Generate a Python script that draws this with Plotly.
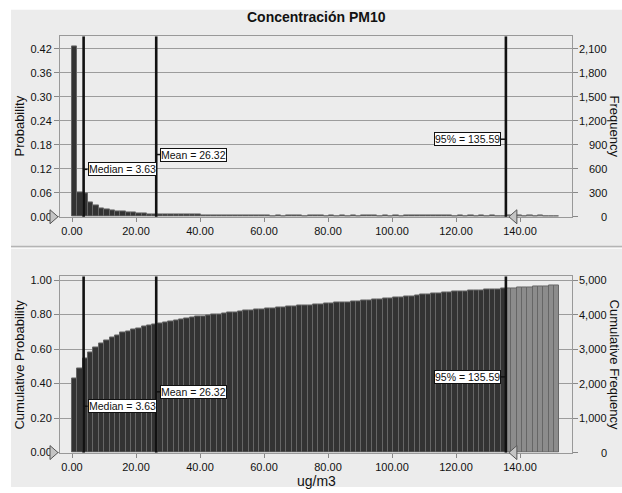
import numpy as np
import plotly.graph_objects as go

# ---------------- data ----------------
TITLE = "Concentración PM10"
X_TITLE = "ug/m3"
N_TRIALS = 5000
BIN_START = 0.0
BIN_WIDTH = 1.674
COUNTS = [
    2135, 305, 288, 180, 145, 110, 95, 80, 66, 64, 56, 50,
    38, 36, 34, 33, 31, 30, 29, 28, 27, 26, 25, 24,
    22, 21, 20, 19, 19, 18, 18, 17, 17, 17, 16, 16,
    18, 10, 16, 9, 17, 11, 15, 8, 16, 12, 14, 9,
    19, 8, 18, 10, 17, 9, 20, 11, 16, 9, 18, 10,
    21, 10, 19, 12, 22, 11, 18, 13, 20, 12, 17, 10,
    13, 6, 12, 7, 11, 8, 12, 6, 10,
    12, 7, 11, 8, 13, 6, 12, 8, 10, 8,
]
MEDIAN = 3.63
MEAN = 26.32
P95 = 135.59
X_TICKS = [0, 20, 40, 60, 80, 100, 120, 140]
PROB_TICKS = [0.0, 0.06, 0.12, 0.18, 0.24, 0.30, 0.36, 0.42]
FREQ_TICKS = [0, 300, 600, 900, 1200, 1500, 1800, 2100]
CUM_TICKS = [0.0, 0.2, 0.4, 0.6, 0.8, 1.0]
CUMFREQ_TICKS = [0, 1000, 2000, 3000, 4000, 5000]

# ---------------- derived ----------------
counts = np.array(COUNTS, dtype=float)
nb = len(counts)
left_edges = BIN_START + BIN_WIDTH * np.arange(nb)
centers = left_edges + BIN_WIDTH / 2
prob = counts / N_TRIALS
cum = np.cumsum(counts) / N_TRIALS
right_edges = left_edges + BIN_WIDTH
DARK = "#333333"
GRAY = "#8c8c8c"
colors = [DARK if r <= P95 + 0.01 else GRAY for r in right_edges]

W, H = 622, 493
def px(x):
    return x / W
def py(y):
    return (H - y) / H

X_RANGE = [-3.75, 156.25]
TOP_Y_MAX = 0.451
BOT_Y_MAX = 1.021
top_dom = [py(218.3), py(35)]
bot_dom = [py(458), py(279)]
x_dom = [px(60), px(572)]

GRID = "#9c9c9c"
FONT = "Liberation Sans, Arial, sans-serif"
TXT = "#111111"

fig = go.Figure()
fig.add_trace(go.Bar(x=centers, y=prob, width=BIN_WIDTH, xaxis="x", yaxis="y",
                     marker=dict(color=colors, line=dict(color="#666666", width=1)),
                     hoverinfo="skip"))
fig.add_trace(go.Bar(x=centers, y=cum, width=BIN_WIDTH, xaxis="x2", yaxis="y3",
                     marker=dict(color=colors, line=dict(color="#666666", width=1)),
                     hoverinfo="skip"))
fig.add_trace(go.Scatter(x=[centers[0]], y=[0], xaxis="x", yaxis="y2", mode="markers",
                         marker=dict(opacity=0), hoverinfo="skip"))
fig.add_trace(go.Scatter(x=[centers[0]], y=[0], xaxis="x2", yaxis="y4", mode="markers",
                         marker=dict(opacity=0), hoverinfo="skip"))

xcommon = dict(range=X_RANGE, domain=x_dom, tickvals=X_TICKS,
               ticktext=[f"{v:.2f}" for v in X_TICKS], ticks="outside", ticklen=4,
               tickcolor="#888", showline=True, linecolor="#999", linewidth=1,
               mirror=True, showgrid=False, zeroline=False,
               tickfont=dict(size=11, family=FONT, color=TXT))
ycommon = dict(ticks="outside", ticklen=5, tickcolor="#888", showline=True,
               linecolor="#999", linewidth=1, mirror=True, showgrid=True,
               gridcolor=GRID, gridwidth=1, zeroline=False,
               tickfont=dict(size=11, family=FONT, color=TXT))

fig.update_layout(
    width=W, height=H, margin=dict(l=0, r=0, t=0, b=0),
    paper_bgcolor="white", plot_bgcolor="white", showlegend=False, bargap=0,
    font=dict(family=FONT, size=11, color=TXT),
    xaxis=dict(anchor="y", **xcommon),
    xaxis2=dict(anchor="y3", **xcommon),
    yaxis=dict(domain=top_dom, range=[0, TOP_Y_MAX], tickvals=PROB_TICKS,
               ticktext=[f"{v:.2f}" for v in PROB_TICKS], anchor="x", **ycommon),
    yaxis2=dict(domain=top_dom, range=[0, TOP_Y_MAX * N_TRIALS], overlaying="y",
                side="right", anchor="x", tickvals=FREQ_TICKS, showticklabels=False,
                ticks="outside", ticklen=5, tickcolor="#888", showgrid=False,
                zeroline=False, showline=False),
    yaxis3=dict(domain=bot_dom, range=[0, BOT_Y_MAX], tickvals=CUM_TICKS,
                ticktext=[f"{v:.2f}" for v in CUM_TICKS], anchor="x2", **ycommon),
    yaxis4=dict(domain=bot_dom, range=[0, BOT_Y_MAX * N_TRIALS], overlaying="y3",
                side="right", anchor="x2", tickvals=CUMFREQ_TICKS, showticklabels=False,
                ticks="outside", ticklen=5, tickcolor="#888", showgrid=False,
                zeroline=False, showline=False),
)

shapes = []
shapes.append(dict(type="rect", xref="paper", yref="paper", x0=px(11), x1=1,
                   y0=0, y1=py(8), fillcolor="#ececec", line=dict(width=0),
                   layer="below"))
shapes.append(dict(type="line", xref="paper", yref="paper", x0=px(11), x1=1,
                   y0=py(248.5), y1=py(248.5), line=dict(color="#b4b4b4", width=1.5)))
shapes.append(dict(type="line", xref="paper", yref="paper", x0=px(11), x1=1,
                   y0=py(250.5), y1=py(250.5), line=dict(color="#fafafa", width=1)))

annotations = []
label_pos = {"median": 0.263, "mean": 0.345, "p95": 0.43}
stats = [("median", MEDIAN, f"Median = {MEDIAN:.2f}", "left"),
         ("mean", MEAN, f"Mean = {MEAN:.2f}", "left"),
         ("p95", P95, f"95% = {P95:.2f}", "right")]

for xa, ya in [("x", "y"), ("x2", "y3")]:
    for key, val, txt, side in stats:
        shapes.append(dict(type="line", xref=xa, yref=f"{ya} domain", x0=val, x1=val,
                           y0=0, y1=1, line=dict(color="#111", width=2.6)))
        yy = label_pos[key]
        if side == "left":
            shapes.append(dict(type="line", xref=xa, yref=f"{ya} domain",
                               xsizemode="pixel", xanchor=val, x0=0, x1=4,
                               y0=yy, y1=yy, line=dict(color="#111", width=1.5)))
            annotations.append(dict(text=txt, xref=xa, yref=f"{ya} domain", x=val, y=yy,
                                    xanchor="left", yanchor="middle", xshift=4,
                                    showarrow=False, bgcolor="white", bordercolor="#111",
                                    borderwidth=1, borderpad=0,
                                    font=dict(size=10.5, family=FONT, color=TXT)))
        else:
            shapes.append(dict(type="line", xref=xa, yref=f"{ya} domain",
                               xsizemode="pixel", xanchor=val, x0=-5, x1=0,
                               y0=yy, y1=yy, line=dict(color="#111", width=1.5)))
            annotations.append(dict(text=txt, xref=xa, yref=f"{ya} domain", x=val, y=yy,
                                    xanchor="right", yanchor="middle", xshift=-5,
                                    showarrow=False, bgcolor="white", bordercolor="#111",
                                    borderwidth=1, borderpad=0,
                                    font=dict(size=10.5, family=FONT, color=TXT)))
    shapes.append(dict(type="path", xref=f"{xa} domain", yref=f"{ya} domain",
                       xsizemode="pixel", ysizemode="pixel", xanchor=0, yanchor=0,
                       path="M -10,7 L -2,0 L -10,-7 Z", fillcolor="#c4c4c4",
                       line=dict(color="#555", width=1)))
    shapes.append(dict(type="path", xref=xa, yref=f"{ya} domain",
                       xsizemode="pixel", ysizemode="pixel", xanchor=P95, yanchor=0,
                       path="M 3,0 L 11,7 L 11,-7 Z", fillcolor="#c4c4c4",
                       line=dict(color="#555", width=1)))

for v in FREQ_TICKS:
    annotations.append(dict(text=f"{v:,}", xref="paper", yref="y2", x=px(609), y=v,
                            xanchor="right", yanchor="middle", showarrow=False,
                            font=dict(size=11, family=FONT, color=TXT)))
for v in CUMFREQ_TICKS:
    annotations.append(dict(text=f"{v:,}", xref="paper", yref="y4", x=px(609), y=v,
                            xanchor="right", yanchor="middle", showarrow=False,
                            font=dict(size=11, family=FONT, color=TXT)))

annotations.append(dict(text=f"<b>{TITLE}</b>", xref="paper", yref="paper",
                        x=px(316), y=py(15), xanchor="center", yanchor="middle",
                        showarrow=False, font=dict(size=14, family=FONT, color=TXT)))
annotations.append(dict(text=X_TITLE, xref="paper", yref="paper",
                        x=px(316), y=py(487), xanchor="center", yanchor="middle",
                        showarrow=False, font=dict(size=14, family=FONT, color=TXT)))
for txt, yc, ang, xc in [("Probability", 126.6, -90, 20),
                         ("Cumulative Probability", 368.5, -90, 20),
                         ("Frequency", 126.6, 90, 614),
                         ("Cumulative Frequency", 368.5, 90, 614)]:
    annotations.append(dict(text=txt, xref="paper", yref="paper", x=px(xc), y=py(yc),
                            xanchor="center", yanchor="middle", textangle=ang,
                            showarrow=False, font=dict(size=13, family=FONT, color=TXT)))

fig.update_layout(shapes=shapes, annotations=annotations)
fig.write_html("out.html")
